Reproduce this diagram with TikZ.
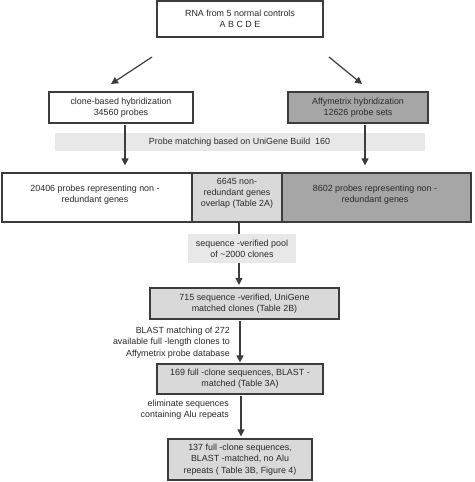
\documentclass[tikz,border=0pt]{standalone}
\usepackage{fontspec}
\setmainfont{Liberation Sans}
\usetikzlibrary{arrows.meta}
\definecolor{ln}{HTML}{3C3C3C}
\definecolor{txt}{HTML}{2A2A2A}
\definecolor{dark}{HTML}{A6A6A6}
\definecolor{mid}{HTML}{D9D9D9}
\definecolor{band}{HTML}{E8E8E8}
\tikzset{
  every node/.style={font=\fontsize{8.9}{11.3}\selectfont, text=txt, align=center, inner sep=0pt},
  boxw/.style={draw=ln, line width=1.2pt, fill=white},
  boxg/.style={draw=ln, line width=1.2pt, fill=mid},
  boxd/.style={draw=ln, line width=1.2pt, fill=dark},
  plain/.style={fill=band},
  conn/.style={draw=ln, line width=1.2pt},
  arr/.style={conn, -{Triangle[width=7pt,length=7pt]}},
}
\begin{document}
\begin{tikzpicture}[x=1pt,y=-1pt]
\useasboundingbox (0,0) rectangle (474,482);
\fill[white] (0,0) rectangle (474,482);
% top box
\node[boxw, minimum width=166, minimum height=36] (top) at (240,19) {RNA from 5 normal controls\\A B C D E};
% second level
\node[boxw, minimum width=144, minimum height=31] (clone) at (121,107.5) {clone-based hybridization\\34560 probes};
\node[boxd, minimum width=140, minimum height=31] (affy) at (358,107.5) {Affymetrix hybridization\\12626 probe sets};
% band
\node[plain, minimum width=370, minimum height=18] (band) at (239.5,142) {Probe matching based on UniGene Build\ \ 160};
% wide row
\node[boxw, minimum width=190, minimum height=49] (lcell) at (97,197.5) {};
\node[boxg, minimum width=90, minimum height=49] (mcell) at (237,197.5) {};
\node[boxd, minimum width=189, minimum height=49] (rcell) at (376.5,197.5) {};
\node (ltext) at (95,194.5) {20406 probes representing non -\\redundant genes};
\node (mtext) at (237,193.5) {6645 non-\\redundant genes\\overlap (Table 2A)};
\node (rtext) at (375,194.5) {8602 probes representing non -\\redundant genes};
% pool
\node[plain, minimum width=108, minimum height=29] (pool) at (242,248.5) {sequence -verified pool\\of \textasciitilde2000 clones};
% 715
\node[boxg, minimum width=189, minimum height=31] (m715) at (244.5,303.5) {715 sequence -verified, UniGene\\matched clones (Table 2B)};
% 169
\node[boxg, minimum width=166, minimum height=30] (m169) at (240,379) {169 full -clone sequences, BLAST -\\matched (Table 3A)};
% 137
\node[boxg, minimum width=144, minimum height=41] (m137) at (240,459.5) {137 full -clone sequences,\\BLAST -matched, no Alu\\repeats ( Table 3B, Figure 4)};
% side labels
\node[align=right, anchor=east] (lab1) at (230,342.5) {BLAST matching of 272\\available full -length clones to\\Affymetrix probe database};
\node[align=right, anchor=east] (lab2) at (229,410) {eliminate sequences\\containing Alu repeats};
% connectors
\coordinate (s1) at (152,57); \coordinate (e1) at (111,84);
\coordinate (s2) at (329,57); \coordinate (e2) at (362,84);
\draw[arr] (s1) -- (e1);
\draw[arr] (s2) -- (e2);
\draw[arr, shorten >=7pt, shorten <=1.5pt] ([xshift=4pt]clone.south) -- ([xshift=4pt]clone.south |- lcell.north);
\draw[arr, shorten >=7pt, shorten <=1.5pt] ([xshift=7pt]affy.south) -- ([xshift=7pt]affy.south |- rcell.north);
\draw[conn] ([xshift=2pt]mcell.south) -- ([xshift=2pt]mcell.south |- pool.north);
\draw[arr, shorten >=2.5pt] ([xshift=-3pt]pool.south) -- ([xshift=-3pt]pool.south |- m715.north);
\draw[arr, shorten >=1pt, shorten <=1.5pt] ([xshift=-4.5pt]m715.south) -- ([xshift=-4.5pt]m715.south |- m169.north);
\draw[arr, shorten >=2pt, shorten <=1.5pt] ([xshift=1pt]m169.south) -- ([xshift=1pt]m169.south |- m137.north);
\end{tikzpicture}
\end{document}
